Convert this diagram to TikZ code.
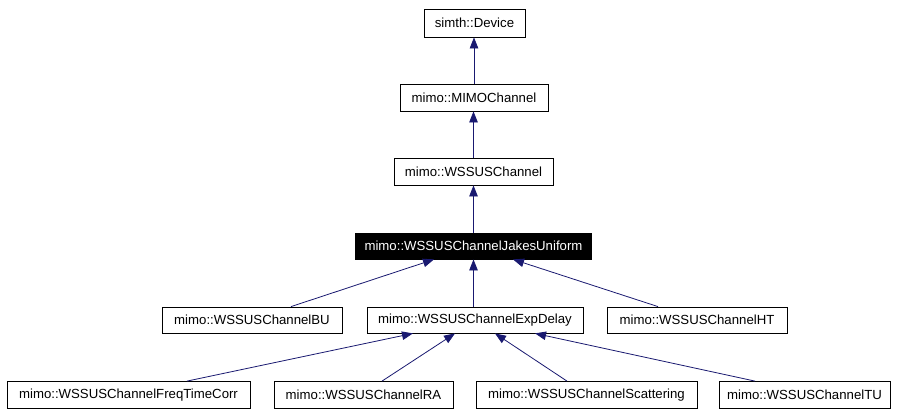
\documentclass[tikz,border=0pt]{standalone}
\usepackage{fontspec}
\setmainfont{Liberation Sans}
\usetikzlibrary{arrows.meta}
\definecolor{edgeblue}{HTML}{191970}
\begin{document}
\begin{tikzpicture}[x=1pt,y=-1pt,
  cls/.style={draw=black,line width=0.8pt,fill=white,inner sep=0pt,minimum height=27pt,font=\fontsize{13.2}{15}\selectfont},
  cur/.style={cls,fill=black,text=white},
  inh/.style={draw=edgeblue,line width=0.8pt,-{Triangle[length=11pt,width=8.5pt]}}]
\useasboundingbox (0,0) rectangle (905,415);
\node[cls,minimum width=101pt,minimum height=28pt] (dev) at (474.5,23) {simth::Device};
\node[cls,minimum width=148pt] (mimo) at (474,97.5) {mimo::MIMOChannel};
\node[cls,minimum width=159pt] (wss) at (473.5,171.5) {mimo::WSSUSChannel};
\node[cur,minimum width=236pt,minimum height=26pt] (jak) at (473.5,246) {mimo::WSSUSChannelJakesUniform};
\node[cls,minimum width=180pt,minimum height=26pt] (bu) at (252,320) {mimo::WSSUSChannelBU};
\node[cls,minimum width=216pt,minimum height=26pt] (exp) at (475,320) {mimo::WSSUSChannelExpDelay};
\node[cls,minimum width=180pt,minimum height=26pt] (ht) at (697,320) {mimo::WSSUSChannelHT};
\node[cls,minimum width=243pt] (ftc) at (128.5,395) {mimo::WSSUSChannelFreqTimeCorr};
\node[cls,minimum width=179pt] (ra) at (363.5,395) {mimo::WSSUSChannelRA};
\node[cls,minimum width=221pt] (sca) at (586.5,395) {mimo::WSSUSChannelScattering};
\node[cls,minimum width=171pt] (tu) at (804.5,395) {mimo::WSSUSChannelTU};
\draw[inh] (mimo.north) -- (mimo.north |- dev.south);
\draw[inh] (wss.north) -- (wss.north |- mimo.south);
\draw[inh] (jak.north) -- (jak.north |- wss.south);
\draw[inh] (exp.north -| jak.south) -- (jak.south);
\draw[inh] ([xshift=39pt]bu.north) -- ([xshift=-39.5pt]jak.south);
\draw[inh] ([xshift=-39pt]ht.north) -- ([xshift=39.5pt]jak.south);
\draw[inh] ([xshift=58.5pt]ftc.north) -- ([xshift=-62pt]exp.south);
\draw[inh] ([xshift=18.5pt]ra.north) -- ([xshift=-20pt]exp.south);
\draw[inh] ([xshift=-19.5pt]sca.north) -- ([xshift=20pt]exp.south);
\draw[inh] ([xshift=-49.5pt]tu.north) -- ([xshift=60pt]exp.south);
\end{tikzpicture}
\end{document}
